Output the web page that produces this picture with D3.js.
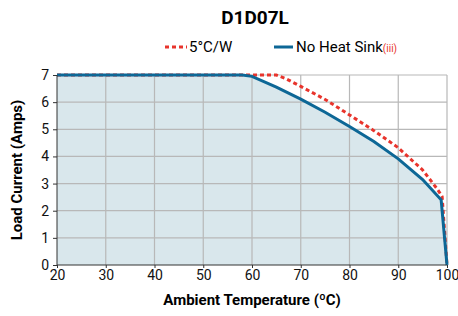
<!DOCTYPE html>
<html>
<head>
<meta charset="utf-8">
<script src="https://cdn.jsdelivr.net/npm/d3@7"></script>
<style>
  body { margin: 0; background: #fff; }
  svg text { font-family: "Roboto", sans-serif; }
  .axis path, .axis line { stroke: #333; }
  .axis text { font-size: 14px; fill: #111; }
</style>
</head>
<body>
<script>
// derating curves
var tempHS = [20, 60, 65, 67, 70, 75, 80, 85, 90, 95, 98, 99, 100];
var ampHS  = [7, 7, 7, 6.86, 6.58, 6.1, 5.53, 4.95, 4.32, 3.5, 2.8, 2.52, 0];

var tempNo = [20, 58, 60, 65, 70, 75, 80, 85, 90, 95, 98.8, 100];
var ampNo  = [7, 7, 6.95, 6.55, 6.11, 5.63, 5.1, 4.55, 3.91, 3.15, 2.4, 0];

var xTicks = [20, 30, 40, 50, 60, 70, 80, 90, 100];
var yTicks = [0, 1, 2, 3, 4, 5, 6, 7];

var W = 458, H = 316;
var margin = {top: 75, right: 11, bottom: 51, left: 57},
    w = W - margin.left - margin.right,
    h = H - margin.top - margin.bottom;

var svg = d3.select('body').append('svg')
    .attr('width', W)
    .attr('height', H);

var g = svg.append('g')
    .attr('transform', 'translate(' + margin.left + ',' + margin.top + ')');

var xScale = d3.scaleLinear().domain([20, 100]).range([0, w]);
var yScale = d3.scaleLinear().domain([0, 7]).range([h, 0]);

var hs = tempHS.map(function (t, i) { return [t, ampHS[i]]; });
var no = tempNo.map(function (t, i) { return [t, ampNo[i]]; });

// shaded area under no heat sink curve
var area = d3.area()
    .x(function (d) { return xScale(d[0]); })
    .y0(yScale(0))
    .y1(function (d) { return yScale(d[1]); });

g.append('path')
  .datum(no)
  .attr('d', area)
  .attr('fill', '#d9e7ec');

// grid
g.selectAll('.vgrid')
  .data(xTicks.slice(1))
  .enter()
  .append('line')
  .attr('x1', function (d) { return xScale(d); })
  .attr('x2', function (d) { return xScale(d); })
  .attr('y1', 0)
  .attr('y2', h)
  .attr('stroke', '#b8b8b8')
  .attr('stroke-width', 1.2);

g.selectAll('.hgrid')
  .data(yTicks.slice(1))
  .enter()
  .append('line')
  .attr('x1', 0)
  .attr('x2', w)
  .attr('y1', function (d) { return yScale(d); })
  .attr('y2', function (d) { return yScale(d); })
  .attr('stroke', '#b8b8b8')
  .attr('stroke-width', 1.2);

var line = d3.line()
    .x(function (d) { return xScale(d[0]); })
    .y(function (d) { return yScale(d[1]); });

g.append('path')
  .datum(hs)
  .attr('d', line)
  .attr('fill', 'none')
  .attr('stroke', '#e8342c')
  .attr('stroke-width', 3)
  .attr('stroke-dasharray', '4,3');

g.append('path')
  .datum(no)
  .attr('d', line)
  .attr('fill', 'none')
  .attr('stroke', '#0d6796')
  .attr('stroke-width', 3);

// axes
var xAxis = d3.axisBottom(xScale).tickValues(xTicks).tickSize(3).tickPadding(2)
    .tickFormat(d3.format('d'));
var yAxis = d3.axisLeft(yScale).tickValues(yTicks).tickSize(4).tickPadding(4)
    .tickFormat(d3.format('d'));

g.append('g')
  .attr('class', 'axis')
  .attr('transform', 'translate(0,' + h + ')')
  .call(xAxis)
  .call(function (s) { s.select('.domain').attr('d', 'M0,0H' + w); });

g.append('g')
  .attr('class', 'axis')
  .call(yAxis)
  .call(function (s) { s.select('.domain').attr('d', 'M0,' + h + 'V0'); });

// titles
svg.append('text')
  .attr('x', 255)
  .attr('y', 24)
  .attr('text-anchor', 'middle')
  .attr('font-size', '19px')
  .attr('font-weight', 'bold')
  .text('D1D07L');

svg.append('text')
  .attr('x', margin.left + w / 2)
  .attr('y', 305)
  .attr('text-anchor', 'middle')
  .attr('font-size', '15px')
  .attr('font-weight', 'bold')
  .text('Ambient Temperature (ºC)');

svg.append('text')
  .attr('transform', 'translate(22,' + (margin.top + h / 2) + ') rotate(-90)')
  .attr('text-anchor', 'middle')
  .attr('font-size', '15px')
  .attr('font-weight', 'bold')
  .text('Load Current (Amps)');

// legend
var leg = svg.append('g');
leg.append('line')
  .attr('x1', 165).attr('x2', 187)
  .attr('y1', 47).attr('y2', 47)
  .attr('stroke', '#e8342c')
  .attr('stroke-width', 3)
  .attr('stroke-dasharray', '4,3');
leg.append('text')
  .attr('x', 189).attr('y', 52)
  .attr('font-size', '15px')
  .text('5°C/W');

leg.append('line')
  .attr('x1', 274).attr('x2', 293)
  .attr('y1', 47).attr('y2', 47)
  .attr('stroke', '#0d6796')
  .attr('stroke-width', 3);
var t = leg.append('text')
  .attr('x', 296).attr('y', 52)
  .attr('font-size', '15px');
t.append('tspan').text('No Heat Sink');
t.append('tspan')
  .attr('font-size', '10px')
  .attr('fill', '#e8342c')
  .text('(iii)');
</script>
</body>
</html>
